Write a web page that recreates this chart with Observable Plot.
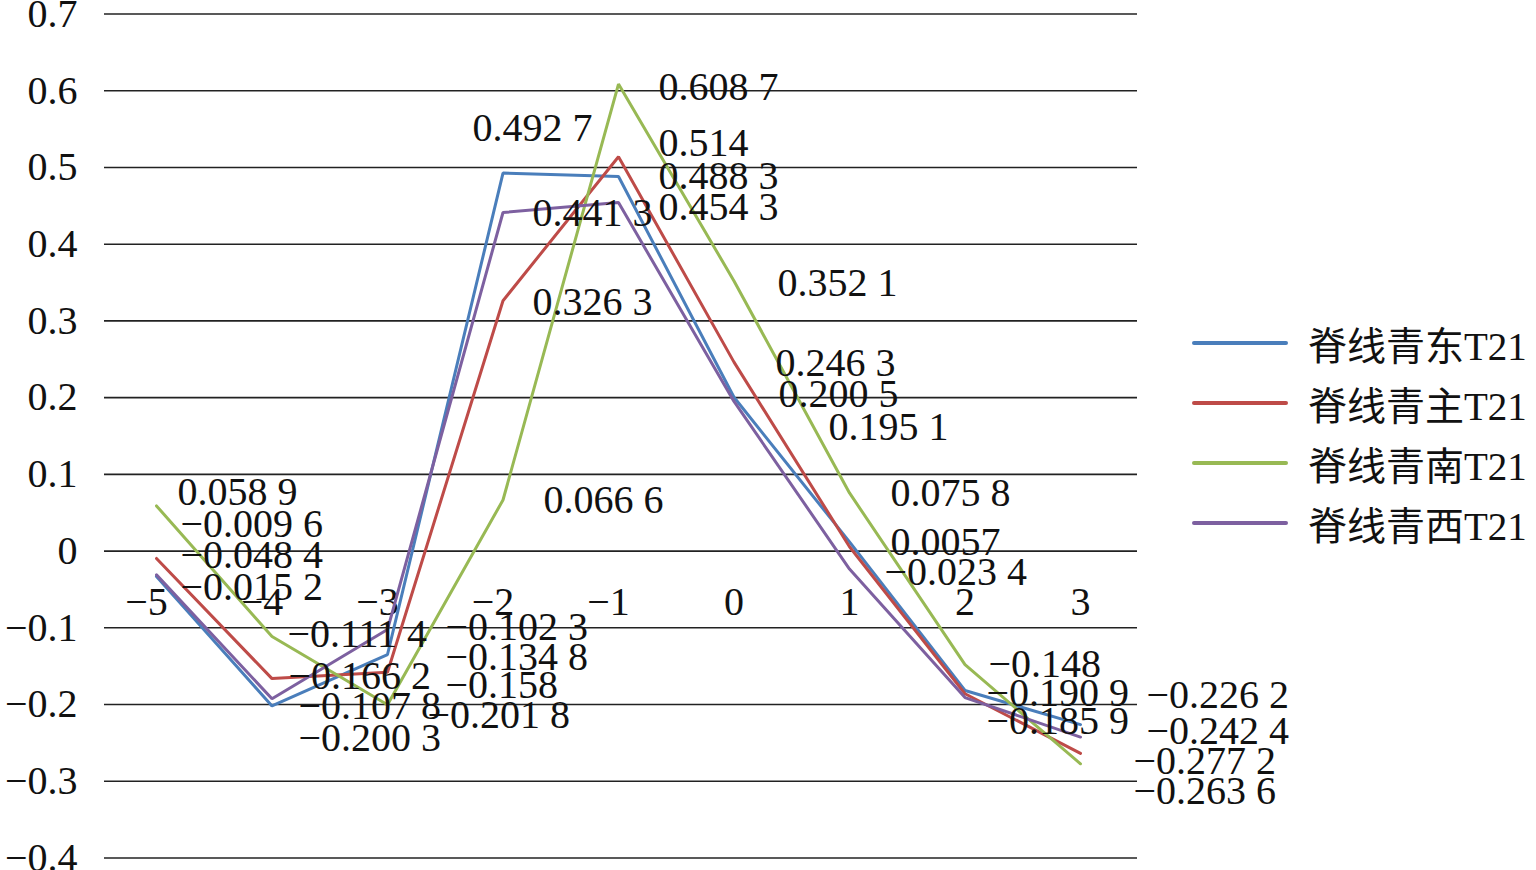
<!DOCTYPE html>
<html><head><meta charset="utf-8">
<script src="https://cdn.jsdelivr.net/npm/d3@7"></script>
<script src="https://cdn.jsdelivr.net/npm/@observablehq/plot@0.6"></script>
<style>
body{margin:0;background:#fff;}
#wrap{position:relative;width:1536px;height:870px;overflow:hidden;}
#chart svg, #chart svg text{font-family:"Liberation Serif","Times New Roman",serif !important;}
#legend{position:absolute;left:1192px;top:313px;font-family:"Liberation Serif","Noto Sans CJK SC",serif;font-size:39px;color:#111;}
.row{display:flex;align-items:center;height:60px;white-space:nowrap;}
.sw{width:96px;height:4px;border-radius:2px;margin-right:20px;flex:none;}
</style></head>
<body><div id="wrap"><div id="chart"></div><div id="legend"></div></div>
<script>
// categories (x) and tick values
const categories = [-5, -4, -3, -2, -1, 0, 1, 2, 3];
const yTicks = [-0.4, -0.3, -0.2, -0.1, 0, 0.1, 0.2, 0.3, 0.4, 0.5, 0.6, 0.7];

// series
const seriesNames = ["脊线青东T21", "脊线青主T21", "脊线青南T21", "脊线青西T21"];
const seriesColors = ["#4A7EBB", "#BE4B48", "#98B954", "#7D60A0"];
const east  = [-0.0330, -0.2018, -0.1348, 0.4927, 0.4883, 0.2005, 0.0120, -0.1817, -0.2262];
const main  = [-0.0096, -0.1662, -0.1580, 0.3263, 0.5140, 0.2463, 0.0057, -0.1859, -0.2636];
const south = [ 0.0589, -0.1114, -0.2003, 0.0666, 0.6087, 0.3521, 0.0758, -0.1480, -0.2772];
const west  = [-0.0310, -0.1925, -0.1023, 0.4413, 0.4543, 0.1951, -0.0234, -0.1909, -0.2424];

// data labels as printed in the figure (text, anchor in data space)
const dataLabels = [
  {t: "0.058 9",  x: -4.818, y: 0.0764},
  {t: "−0.009 6", x: -4.792, y: 0.0347},
  {t: "−0.048 4", x: -4.792, y: -0.0057},
  {t: "−0.015 2", x: -4.792, y: -0.0474},
  {t: "−0.111 4", x: -3.866, y: -0.1087},
  {t: "−0.166 2", x: -3.857, y: -0.1635},
  {t: "−0.107 8", x: -3.771, y: -0.2026},
  {t: "−0.200 3", x: -3.771, y: -0.2442},
  {t: "−0.102 3", x: -2.498, y: -0.0996},
  {t: "−0.134 8", x: -2.498, y: -0.1387},
  {t: "−0.158",   x: -2.498, y: -0.1752},
  {t: "−0.201 8", x: -2.654, y: -0.2143},
  {t: "0.066 6",  x: -1.649, y: 0.0659},
  {t: "0.492 7",  x: -2.264, y: 0.5507},
  {t: "0.441 3",  x: -1.745, y: 0.4398},
  {t: "0.326 3",  x: -1.745, y: 0.3238},
  {t: "0.608 7",  x: -0.654, y: 0.6042},
  {t: "0.514",    x: -0.654, y: 0.5312},
  {t: "0.488 3",  x: -0.654, y: 0.4882},
  {t: "0.454 3",  x: -0.654, y: 0.4478},
  {t: "0.352 1",  x: 0.377,  y: 0.3489},
  {t: "0.246 3",  x: 0.359,  y: 0.2445},
  {t: "0.200 5",  x: 0.385,  y: 0.2041},
  {t: "0.195 1",  x: 0.818,  y: 0.1611},
  {t: "0.075 8",  x: 1.355,  y: 0.0753},
  {t: "0.0057",   x: 1.355,  y: 0.0112},
  {t: "−0.023 4", x: 1.303,  y: -0.0279},
  {t: "−0.148",   x: 2.203,  y: -0.1472},
  {t: "−0.190 9", x: 2.186,  y: -0.1850},
  {t: "−0.185 9", x: 2.186,  y: -0.2221},
  {t: "−0.226 2", x: 3.571,  y: -0.1882},
  {t: "−0.242 4", x: 3.571,  y: -0.2351},
  {t: "−0.277 2", x: 3.459,  y: -0.2742},
  {t: "−0.263 6", x: 3.459,  y: -0.3133}
];

const seriesValues = [east, main, south, west];
const rows = [];
seriesValues.forEach((vals, s) => vals.forEach((v, i) => rows.push({series: seriesNames[s], x: categories[i], y: v})));

const fmtCat = d => d < 0 ? "−" + (-d) : String(d);
const fmtY = d => {
  const r = Math.round(d * 10) / 10;
  if (r === 0) return "0";
  return (r < 0 ? "−" : "") + Math.abs(r).toFixed(1);
};
const FONT = "'Liberation Serif', 'Times New Roman', serif";

const chart = Plot.plot({
  width: 1536,
  height: 870,
  marginLeft: 104,
  marginRight: 399,
  marginTop: 13.5,
  marginBottom: 12.5,
  style: {fontFamily: FONT, fontSize: "40px", color: "#111", background: "#fff"},
  x: {domain: [-5, 3], range: [156, 1080], axis: null},
  y: {domain: [-0.4, 0.7], axis: null},
  color: {domain: seriesNames, range: seriesColors},
  marks: [
    Plot.ruleY(yTicks, {stroke: "#222", strokeWidth: 1.6}),
    Plot.axisY(yTicks, {tickSize: 0, tickPadding: 27, fontSize: 40, fontFamily: FONT, label: null, tickFormat: fmtY}),
    // category labels: digit centred on the category, minus sign hanging to the left
    Plot.text(categories.filter(d => d < 0), {x: d => d, y: () => 0, dy: 51, dx: -10, text: fmtCat, fontSize: 40, fontFamily: FONT, fill: "#111"}),
    Plot.text(categories.filter(d => d >= 0), {x: d => d, y: () => 0, dy: 51, text: fmtCat, fontSize: 40, fontFamily: FONT, fill: "#111"}),
    Plot.line(rows, {x: "x", y: "y", z: "series", stroke: "series", strokeWidth: 3, strokeLinejoin: "miter"}),
    Plot.text(dataLabels, {x: "x", y: "y", text: "t", textAnchor: "start", fontSize: 40, fontFamily: FONT, fill: "#111"})
  ]
});
document.getElementById("chart").appendChild(chart);

const legend = document.getElementById("legend");
seriesNames.forEach((name, i) => {
  const row = document.createElement("div");
  row.className = "row";
  const sw = document.createElement("div");
  sw.className = "sw";
  sw.style.background = seriesColors[i];
  const tx = document.createElement("span");
  tx.textContent = name;
  row.appendChild(sw);
  row.appendChild(tx);
  legend.appendChild(row);
});
</script>
</body></html>
